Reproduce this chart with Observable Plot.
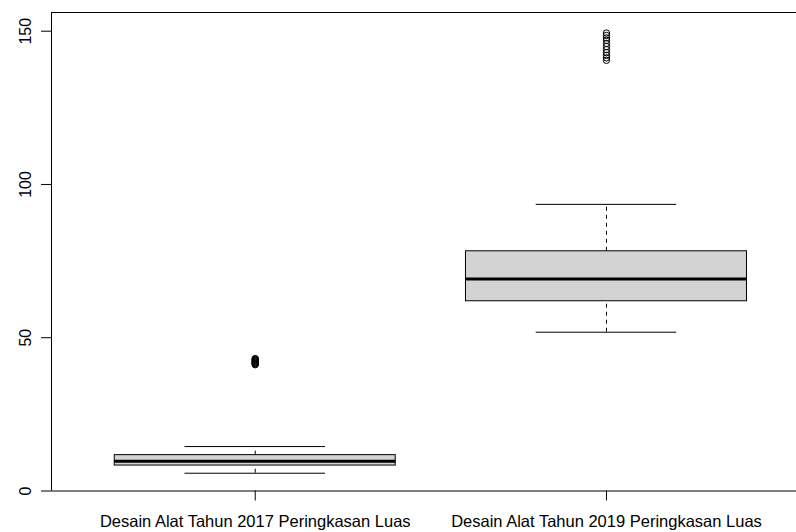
<!DOCTYPE html>
<html><head><meta charset="utf-8">
<script src="https://cdn.jsdelivr.net/npm/d3@7"></script>
<script src="https://cdn.jsdelivr.net/npm/@observablehq/plot@0.6"></script>
<style>html,body{margin:0;padding:0;background:#fff}svg{display:block}</style>
</head><body><div id="chart"></div>
<script>
const categories = ["Desain Alat Tahun 2017 Peringkasan Luas", "Desain Alat Tahun 2019 Peringkasan Luas"];
const lowerWhisker = [5.8, 51.8];
const q1 = [8.3, 61.9];
const median = [9.7, 69.2];
const q3 = [11.7, 78.2];
const upperWhisker = [14.5, 93.5];
const outliers2017 = [41.2, 41.4, 41.6, 41.8, 42.0, 42.2, 42.4, 42.6, 42.8, 43.0, 43.2];
const outliers2019 = [140.5, 141.3, 142.1, 143.0, 144.0, 145.0, 146.0, 147.0, 147.8, 148.6, 149.4];
const yTicks = [0, 50, 100, 150];

const boxes = categories.map((c, i) => ({pos: i + 1, name: c, lo: lowerWhisker[i], q1: q1[i], med: median[i], q3: q3[i], hi: upperWhisker[i]}));
const outliers = [
  ...outliers2017.map(v => ({pos: 1, v})),
  ...outliers2019.map(v => ({pos: 2, v}))
];
const boxWidth = 0.8, capWidth = 0.4;
const xDomain = [0.42, 2.541], yDomain = [0, 156.1];

const plot = Plot.plot({
  width: 796, height: 532,
  marginLeft: 51, marginRight: 0, marginTop: 12, marginBottom: 41.5,
  x: {domain: xDomain, axis: null, label: null},
  y: {domain: yDomain, axis: null, label: null},
  style: {fontFamily: "'Liberation Sans', Arial, sans-serif", fontSize: "16px", background: "#fff", color: "#000"},
  marks: [
    Plot.ruleX(boxes, {x: "pos", y1: "q3", y2: "hi", stroke: "#000", strokeDasharray: "4,4"}),
    Plot.ruleX(boxes, {x: "pos", y1: "lo", y2: "q1", stroke: "#000", strokeDasharray: "4,4"}),
    Plot.ruleY(boxes, {y: "hi", x1: d => d.pos - capWidth / 2, x2: d => d.pos + capWidth / 2, stroke: "#000"}),
    Plot.ruleY(boxes, {y: "lo", x1: d => d.pos - capWidth / 2, x2: d => d.pos + capWidth / 2, stroke: "#000"}),
    Plot.rect(boxes, {x1: d => d.pos - boxWidth / 2, x2: d => d.pos + boxWidth / 2, y1: "q1", y2: "q3", fill: "#d3d3d3", stroke: "#000", strokeWidth: 1}),
    Plot.ruleY(boxes, {y: "med", x1: d => d.pos - boxWidth / 2, x2: d => d.pos + boxWidth / 2, stroke: "#000", strokeWidth: 3}),
    Plot.dot(outliers, {x: "pos", y: "v", r: 3.2, stroke: "#000", fill: "none", strokeWidth: 1}),
    Plot.axisY({ticks: yTicks, tickSize: 10, tickPadding: 11, tickRotate: -90, textAnchor: "middle", lineAnchor: "bottom", stroke: "#000", fill: "#000"}),
    Plot.axisX({ticks: [1, 2], tickSize: 10, tickPadding: 14, fontSize: 16.5, tickFormat: d => categories[d - 1], stroke: "#000", fill: "#000"}),
    Plot.ruleY([yDomain[1]], {stroke: "#000"}),
    Plot.ruleY([yDomain[0]], {stroke: "#000"}),
    Plot.ruleX([xDomain[0]], {stroke: "#000"})
  ]
});
document.getElementById("chart").appendChild(plot);
</script>
</body></html>
